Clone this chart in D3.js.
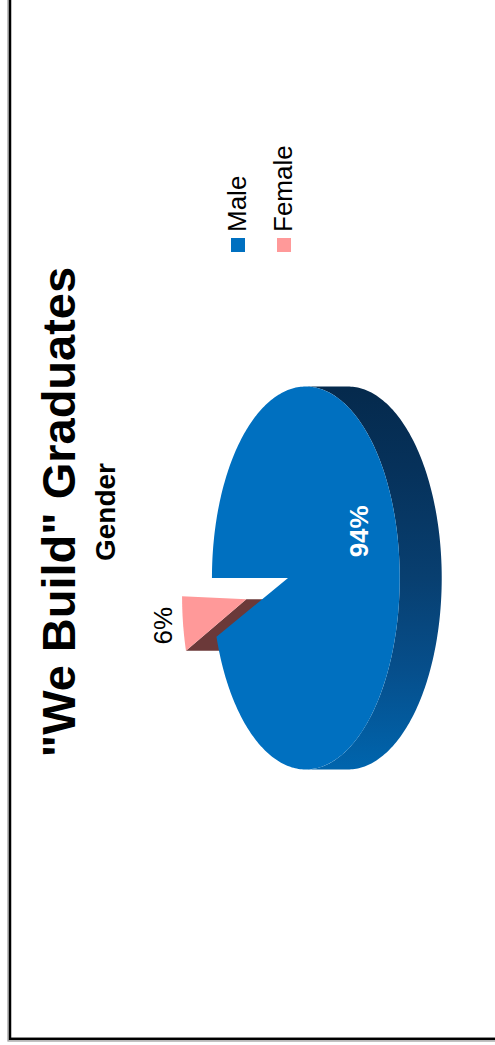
<!DOCTYPE html>
<meta charset="utf-8">
<script src="https://d3js.org/d3.v7.min.js"></script>
<style>
  body { margin: 0; background: #fff; }
  svg { display: block; }
  text { font-family: "Liberation Sans", Arial, sans-serif; }
</style>
<div id="chart"></div>
<script>
  // chart values
  const categories = ["Male", "Female"];
  const values = [94, 6];
  const labels = ["94%", "6%"];
  const colors = ["#0070c0", "#ff9999"];
  const explode = [0, 0.52];

  const W = 495, H = 1045;

  // the whole chart lies on its side: the frame is H wide and W tall
  const svg = d3.select("#chart").append("svg")
      .attr("width", W)
      .attr("height", H);
  const g = svg.append("g")
      .attr("transform", `translate(0,${H}) rotate(-90)`);

  // chart area border (runs off the page at the far sides)
  g.append("rect")
      .attr("x", 4).attr("y", 8)
      .attr("width", 1200).attr("height", 700)
      .attr("fill", "none").attr("stroke", "#999").attr("stroke-width", 1.2);
  g.append("rect")
      .attr("x", 6.2).attr("y", 10)
      .attr("width", 1200).attr("height", 700)
      .attr("fill", "#fff").attr("stroke", "#000").attr("stroke-width", 2.5);

  // title
  g.append("text")
      .attr("x", 533).attr("y", 75)
      .attr("text-anchor", "middle")
      .attr("font-size", 47).attr("font-weight", "bold")
      .text('"We Build" Graduates');
  g.append("text")
      .attr("x", 533).attr("y", 115)
      .attr("text-anchor", "middle")
      .attr("font-size", 28).attr("font-weight", "bold")
      .text("Gender");

  // 3d pie: unit disc seen in perspective, side extruded downwards
  const cx = 467, cy = 288, rx = 188, ry = 90.5, persp = 0.19, depth = 42;
  const explodeTilt = -3 * Math.PI / 180;

  const project = (X, Y, z) => {
    const w = 1 - persp * Y;
    return [cx + rx * X / w, cy + ry * Y / w + z * depth];
  };
  const pt = (a, r, off, z) =>
    project(r * Math.sin(a) + off[0], -r * Math.cos(a) + off[1], z);

  const arcPts = (a0, a1, off, z) => {
    const n = Math.max(2, Math.ceil((a1 - a0) / (Math.PI / 180)));
    return d3.range(n + 1).map(i => pt(a0 + (a1 - a0) * i / n, 1, off, z));
  };

  const color = d3.scaleOrdinal().domain(categories).range(colors);
  const line = d3.line();

  const slices = d3.pie().sort(null).value(d => d)(values).map((d, i) => {
    const mid = (d.startAngle + d.endAngle) / 2;
    const dir = mid + explodeTilt;
    return {
      ...d,
      name: categories[i],
      label: labels[i],
      mid: mid,
      off: [explode[i] * Math.sin(dir), -explode[i] * Math.cos(dir)]
    };
  });

  // side shading
  const defs = svg.append("defs");
  const grad = defs.append("linearGradient")
      .attr("id", "side")
      .attr("gradientUnits", "userSpaceOnUse")
      .attr("x1", cx - rx).attr("y1", 0)
      .attr("x2", cx + rx).attr("y2", 0);
  grad.append("stop").attr("offset", 0).attr("stop-color", "#0064ac");
  grad.append("stop").attr("offset", 0.25).attr("stop-color", "#064f8c");
  grad.append("stop").attr("offset", 0.5).attr("stop-color", "#083f70");
  grad.append("stop").attr("offset", 0.8).attr("stop-color", "#06315a");
  grad.append("stop").attr("offset", 1).attr("stop-color", "#052a4d");

  // the outer side is visible between the silhouette angles
  const aL = Math.acos(-persp), aR = 2 * Math.PI - aL;

  // draw back slice (exploded female) first, then the big one
  const order = slices.slice().sort((a, b) => b.index - a.index);

  order.forEach(s => {
    const apex0 = project(s.off[0], s.off[1], 0);
    const apex1 = project(s.off[0], s.off[1], 1);

    // radial cut face at the start edge
    if (s.index === 1) {
      g.append("path")
          .attr("d", line([apex0, pt(s.startAngle, 1, s.off, 0),
                           pt(s.startAngle, 1, s.off, 1), apex1]) + "Z")
          .attr("fill", "#6b3939");
    }

    // outer side
    const s0 = Math.max(s.startAngle, aL), s1 = Math.min(s.endAngle, aR);
    if (s1 > s0) {
      const top = arcPts(s0, s1, s.off, 0);
      const bot = arcPts(s0, s1, s.off, 1).reverse();
      g.append("path")
          .attr("d", line(top.concat(bot)) + "Z")
          .attr("fill", "url(#side)");
    }

    // top face
    g.append("path")
        .attr("d", line([apex0].concat(arcPts(s.startAngle, s.endAngle, s.off, 0))) + "Z")
        .attr("fill", color(s.name));
  });

  // data labels
  const male = slices[0], female = slices[1];
  const mp = project(0.22, 0.6, 0);
  g.append("text")
      .attr("x", mp[0]).attr("y", mp[1] + 19)
      .attr("text-anchor", "middle")
      .attr("font-size", 26).attr("font-weight", "bold")
      .attr("fill", "#fff")
      .text(male.label);
  const fp = pt(female.mid, 1, female.off, 0);
  g.append("text")
      .attr("x", fp[0] - 2).attr("y", fp[1] - 11)
      .attr("text-anchor", "middle")
      .attr("font-size", 26)
      .attr("fill", "#000")
      .text(female.label);

  // legend
  const legendY = d3.scalePoint().domain(categories).range([231, 277]);
  const leg = g.selectAll(".leg").data(categories).join("g").attr("class", "leg");
  leg.append("rect")
      .attr("x", 793).attr("y", d => legendY(d))
      .attr("width", 14).attr("height", 14)
      .attr("fill", d => color(d));
  leg.append("text")
      .attr("x", 813).attr("y", d => legendY(d) + 15)
      .attr("font-size", 26)
      .text(d => d);
</script>
